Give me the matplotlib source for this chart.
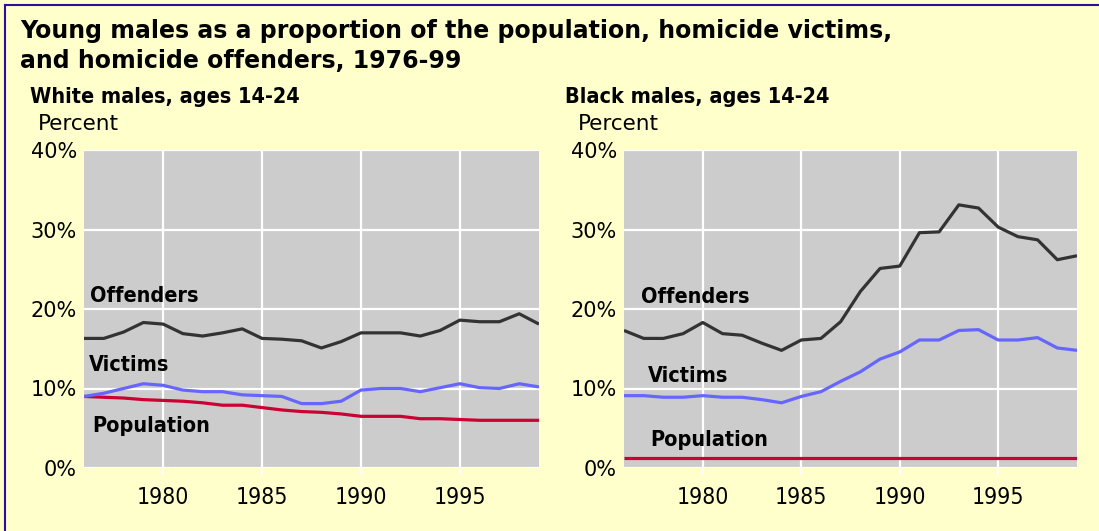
import numpy as np
import matplotlib
matplotlib.use("Agg")
import matplotlib.pyplot as plt
from matplotlib.lines import Line2D

# data (percent)
########################################################
years = list(range(1976, 2000))

white_offenders = [16.3, 16.3, 17.1, 18.3, 18.1, 16.9, 16.6, 17.0, 17.5, 16.3, 16.2, 16.0,
                   15.1, 15.9, 17.0, 17.0, 17.0, 16.6, 17.3, 18.6, 18.4, 18.4, 19.4, 18.1]
white_victims = [9.0, 9.4, 10.0, 10.6, 10.4, 9.8, 9.6, 9.6, 9.2, 9.1, 9.0, 8.1,
                 8.1, 8.4, 9.8, 10.0, 10.0, 9.6, 10.1, 10.6, 10.1, 10.0, 10.6, 10.2]
white_population = [9.0, 8.9, 8.8, 8.6, 8.5, 8.4, 8.2, 7.9, 7.9, 7.6, 7.3, 7.1,
                    7.0, 6.8, 6.5, 6.5, 6.5, 6.2, 6.2, 6.1, 6.0, 6.0, 6.0, 6.0]

black_offenders = [17.3, 16.3, 16.3, 16.9, 18.3, 16.9, 16.7, 15.7, 14.8, 16.1, 16.3, 18.4,
                   22.2, 25.1, 25.4, 29.6, 29.7, 33.1, 32.7, 30.3, 29.1, 28.7, 26.2, 26.7]
black_victims = [9.1, 9.1, 8.9, 8.9, 9.1, 8.9, 8.9, 8.6, 8.2, 9.0, 9.6, 10.9,
                 12.1, 13.7, 14.6, 16.1, 16.1, 17.3, 17.4, 16.1, 16.1, 16.4, 15.1, 14.8]
black_population = [1.2] * 24

y_ticks = [0, 10, 20, 30, 40]
y_labels = ["0%", "10%", "20%", "30%", "40%"]
x_ticks = [1980, 1985, 1990, 1995]

# label positions (year, percent) for the series names
white_label_pos = {"Offenders": (1976.3, 21.6), "Victims": (1976.25, 12.9), "Population": (1976.4, 5.3)}
black_label_pos = {"Offenders": (1976.85, 21.5), "Victims": (1977.2, 11.6), "Population": (1977.35, 3.5)}

BG = "#FFFFCC"
PANEL = "#CCCCCC"
C_OFF = "#333333"
C_VIC = "#6666FF"
C_POP = "#CC0033"

FAM = ["DejaVu Sans"]


def draw_panel(ax, offenders, victims, population, label_pos):
    ax.set_facecolor(PANEL)
    ax.plot(years, population, color=C_POP, lw=2.3, solid_capstyle="butt", zorder=3)
    ax.plot(years, victims, color=C_VIC, lw=2.3, solid_capstyle="butt", zorder=4)
    ax.plot(years, offenders, color=C_OFF, lw=2.3, solid_capstyle="butt", zorder=5)
    for name, (x, y) in label_pos.items():
        ax.text(x, y, name, ha="left", va="center", fontsize=15.5, fontweight="bold",
                family=FAM, fontstretch="condensed", color="black", zorder=6)
    ax.set_xlim(1976, 1999)
    ax.set_ylim(0, 40)
    ax.set_yticks(y_ticks)
    ax.set_yticklabels(y_labels, family=FAM, fontsize=15)
    ax.set_xticks(x_ticks)
    ax.set_xticklabels([str(t) for t in x_ticks], family=FAM, fontstretch="condensed", fontsize=16.5)
    ax.grid(True, color="white", lw=1.6)
    ax.set_axisbelow(True)
    for s in ax.spines.values():
        s.set_visible(False)
    ax.tick_params(axis="y", length=0, pad=5)
    ax.tick_params(axis="x", length=5, color="white", width=1.6, pad=8)


fig = plt.figure(figsize=(10.99, 5.31), dpi=100, facecolor=BG)

ax1 = fig.add_axes([84 / 1099, 1 - 468 / 531, 455 / 1099, 318 / 531])
ax2 = fig.add_axes([624 / 1099, 1 - 468 / 531, 453 / 1099, 318 / 531])
draw_panel(ax1, white_offenders, white_victims, white_population, white_label_pos)
draw_panel(ax2, black_offenders, black_victims, black_population, black_label_pos)

# title and panel headings
fig.text(20 / 1099, 1 - 31 / 531, "Young males as a proportion of the population, homicide victims,",
         fontsize=17, fontweight="bold", family=FAM, va="center", ha="left")
fig.text(20 / 1099, 1 - 61 / 531, "and homicide offenders, 1976-99",
         fontsize=17, fontweight="bold", family=FAM, va="center", ha="left")
fig.text(30 / 1099, 1 - 97 / 531, "White males, ages 14-24", fontsize=15.5, fontweight="bold",
         family=FAM, fontstretch="condensed", va="center", ha="left")
fig.text(565 / 1099, 1 - 97 / 531, "Black males, ages 14-24", fontsize=15.5, fontweight="bold",
         family=FAM, fontstretch="condensed", va="center", ha="left")
fig.text(38 / 1099, 1 - 124 / 531, "Percent", fontsize=15.5, family=FAM, va="center", ha="left")
fig.text(578 / 1099, 1 - 124 / 531, "Percent", fontsize=15.5, family=FAM, va="center", ha="left")

# frame lines at top and left, like the original web graphic
fig.add_artist(Line2D([5 / 1099, 1], [1 - 5 / 531, 1 - 5 / 531], color="#2B0F99", lw=1.5,
                      transform=fig.transFigure))
fig.add_artist(Line2D([5 / 1099, 5 / 1099], [0, 1 - 5 / 531], color="#2B0F99", lw=1.5,
                      transform=fig.transFigure))

fig.savefig("out.png", dpi=100, facecolor=BG)
